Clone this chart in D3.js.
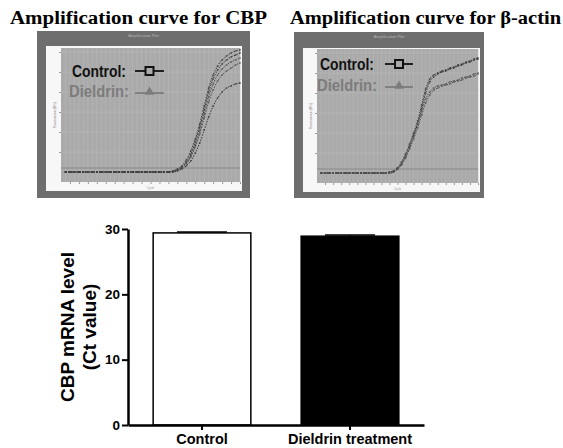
<!DOCTYPE html>
<html>
<head>
<meta charset="utf-8">
<script src="https://cdn.jsdelivr.net/npm/d3@7"></script>
<style>
  body { margin: 0; background: #fff; }
  svg { display: block; }
</style>
</head>
<body>
<div id="container"></div>
<script>
/* CONSTANTS AND GLOBALS */
const width = 563,
  height = 448;

/* DATA */
// amplification plot titles
const panelTitles = ["Amplification curve for CBP", "Amplification curve for \u03b2-actin"];
const legendLabels = ["Control:", "Dieldrin:"];

// cycle numbers 1..40
const cycles = d3.range(1, 41);

// CBP amplification curves (delta Rn per cycle)
const cbpCurves = [
  [0,0,0,0,0,0,0,0,0,0,0,0,0,0,0,0,0,0,0,0,0,0,0,0, 0.01,0.03,0.06,0.12,0.21,0.33,0.48,0.66,0.84,0.97,1.06,1.12,1.16,1.19,1.21,1.22],
  [0,0,0,0,0,0,0,0,0,0,0,0,0,0,0,0,0,0,0,0,0,0,0,0, 0.01,0.02,0.05,0.10,0.18,0.30,0.45,0.62,0.80,0.93,1.02,1.08,1.12,1.15,1.17,1.19],
  [0,0,0,0,0,0,0,0,0,0,0,0,0,0,0,0,0,0,0,0,0,0,0,0, 0.01,0.02,0.05,0.09,0.16,0.27,0.41,0.58,0.75,0.88,0.97,1.03,1.07,1.10,1.12,1.14],
  [0,0,0,0,0,0,0,0,0,0,0,0,0,0,0,0,0,0,0,0,0,0,0,0, 0.00,0.02,0.04,0.08,0.15,0.25,0.38,0.54,0.70,0.82,0.91,0.97,1.01,1.04,1.07,1.09],
  [0,0,0,0,0,0,0,0,0,0,0,0,0,0,0,0,0,0,0,0,0,0,0,0, 0.00,0.01,0.03,0.06,0.11,0.19,0.29,0.42,0.55,0.66,0.74,0.80,0.84,0.86,0.88,0.89]
];

// beta-actin amplification curves
const actinCurves = [
  [0,0,0,0,0,0,0,0,0,0,0,0,0,0,0,0,0, 0.01,0.02,0.05,0.11,0.19,0.29,0.40,0.52,0.68,0.84,0.94,0.98,1.00,1.02,1.03,1.05,1.06,1.08,1.09,1.11,1.12,1.14,1.15],
  [0,0,0,0,0,0,0,0,0,0,0,0,0,0,0,0,0, 0.00,0.01,0.04,0.09,0.16,0.26,0.37,0.49,0.64,0.80,0.91,0.96,0.99,1.01,1.02,1.04,1.05,1.07,1.08,1.10,1.11,1.13,1.14],
  [0,0,0,0,0,0,0,0,0,0,0,0,0,0,0,0,0, 0.01,0.02,0.05,0.10,0.18,0.28,0.38,0.49,0.62,0.74,0.81,0.85,0.87,0.88,0.89,0.91,0.92,0.93,0.95,0.96,0.97,0.99,1.00],
  [0,0,0,0,0,0,0,0,0,0,0,0,0,0,0,0,0, 0.00,0.01,0.04,0.08,0.15,0.24,0.34,0.45,0.58,0.70,0.78,0.83,0.85,0.87,0.88,0.89,0.91,0.92,0.93,0.95,0.96,0.97,0.99]
];
const curveGroups = ["control", "control", "dieldrin", "dieldrin", "control"];
const threshold = 0.04;
const gridRn = [0.2, 0.4, 0.6, 0.8, 1.0, 1.2];

// bar chart
const groups = ["Control", "Dieldrin treatment"];
const ctMeans = [29.4, 28.9];
const ctSem = [0.15, 0.2];
const yTicks = [0, 10, 20, 30];

// APPEND SVG
const svg = d3.select("#container")
  .append("svg")
  .attr("width", width)
  .attr("height", height)

/* AMPLIFICATION PANELS */
const panels = [
  { title: panelTitles[0], tx: 10, tw: 257, frame: [37, 31, 250, 198], inner: [46, 46, 242, 191], plot: [61, 48, 240, 182],
    curves: cbpCurves, leg: { tx: 72, ty: 77, mx: 135, mw: 29, dy: 20 } },
  { title: panelTitles[1], tx: 290, tw: 271, frame: [294, 32, 484, 198], inner: [303, 48, 480, 192], plot: [317, 49, 478, 183],
    curves: actinCurves, leg: { tx: 320, ty: 70, mx: 385, mw: 28, dy: 21 } }
];

panels.forEach(p => {
  const g = svg.append("g")

  // title
  g.append("text")
    .attr("x", p.tx)
    .attr("y", 24)
    .attr("textLength", p.tw)
    .attr("lengthAdjust", "spacingAndGlyphs")
    .attr("font-family", "Liberation Serif, serif")
    .attr("font-weight", "bold")
    .attr("font-size", 18.5)
    .text(p.title)

  const [fx0, fy0, fx1, fy1] = p.frame
  const [ix0, iy0, ix1, iy1] = p.inner
  const [px0, py0, px1, py1] = p.plot

  g.append("rect").attr("x", fx0).attr("y", fy0).attr("width", fx1 - fx0).attr("height", fy1 - fy0)
    .attr("fill", "#6e6e6e")
  g.append("text")
    .attr("x", (fx0 + fx1) / 2).attr("y", fy0 + 6)
    .attr("text-anchor", "middle")
    .attr("font-family", "Liberation Sans, sans-serif")
    .attr("font-size", 4)
    .attr("fill", "#b5b5b5")
    .text("Amplification Plot")
  g.append("rect").attr("x", ix0).attr("y", iy0).attr("width", ix1 - ix0).attr("height", iy1 - iy0)
    .attr("fill", "#f7f7f7")
  g.append("rect").attr("x", px0).attr("y", py0).attr("width", px1 - px0).attr("height", py1 - py0)
    .attr("fill", "#aaaaaa")

  const x = d3.scaleLinear().domain([0, 40]).range([px0, px1])
  const y = d3.scaleLinear().domain([-0.1, (py1 - py0) / 100 - 0.1]).range([py1, py0])

  // grid
  g.selectAll("line.vgrid").data(cycles).join("line")
    .attr("x1", d => x(d)).attr("x2", d => x(d))
    .attr("y1", py0).attr("y2", py1)
    .attr("stroke", "#b9b9b9").attr("stroke-width", 0.6)
  g.selectAll("line.hgrid").data(gridRn).join("line")
    .attr("x1", px0).attr("x2", px1)
    .attr("y1", d => y(d)).attr("y2", d => y(d))
    .attr("stroke", "#b9b9b9").attr("stroke-width", 0.7)

  // axes (tiny, as in the screenshot)
  const xAxis = g.append("g")
    .attr("transform", `translate(0, ${py1})`)
    .call(d3.axisBottom(x).tickValues(d3.range(2, 41, 2)).tickSize(2).tickFormat(""))
  xAxis.select(".domain").remove()
  xAxis.selectAll("line").attr("stroke", "#999")
  g.append("text").attr("x", (px0 + px1) / 2).attr("y", py1 + 7)
    .attr("text-anchor", "middle").attr("font-size", 3).attr("fill", "#999")
    .attr("font-family", "Liberation Sans, sans-serif").text("Cycle")
  const yAxis = g.append("g")
    .attr("transform", `translate(${px0}, 0)`)
    .call(d3.axisLeft(y).tickValues(gridRn).tickSize(2).tickFormat(""))
  yAxis.select(".domain").remove()
  yAxis.selectAll("line").attr("stroke", "#999")
  g.append("text")
    .attr("transform", `translate(${px0 - 5}, ${(py0 + py1) / 2}) rotate(-90)`)
    .attr("text-anchor", "middle").attr("font-size", 3).attr("fill", "#888")
    .attr("font-family", "Liberation Sans, sans-serif").text("Fluorescence (\u0394Rn)")

  // threshold
  g.append("line")
    .attr("x1", px0).attr("x2", px1)
    .attr("y1", y(threshold)).attr("y2", y(threshold))
    .attr("stroke", "#808080").attr("stroke-width", 0.8)

  // curves
  const lineGen = d3.line()
    .x((d, i) => x(cycles[i]))
    .y(d => y(d))
    .curve(d3.curveMonotoneX)
  p.curves.forEach((c, k) => {
    const col = curveGroups[k] === "control" ? "#353535" : "#505050"
    g.append("path")
      .attr("d", lineGen(c))
      .attr("fill", "none")
      .attr("stroke", col)
      .attr("stroke-width", 1)
      .attr("stroke-dasharray", "1.5,1.3")
    g.selectAll(null).data(c).join("rect")
      .attr("x", (d, i) => x(cycles[i]) - 0.8)
      .attr("y", d => y(d) - 0.8)
      .attr("width", 1.6).attr("height", 1.6)
      .attr("fill", col)
      .attr("opacity", 0.7)
  })

  // legend
  const L = p.leg
  const legendColors = ["#111", "#7c7c7c"]
  legendLabels.forEach((lab, i) => {
    g.append("text")
      .attr("x", L.tx - i * 3)
      .attr("y", L.ty + i * L.dy)
      .attr("font-family", "Liberation Sans, sans-serif")
      .attr("font-weight", "bold")
      .attr("font-size", 16.5)
      .attr("textLength", i === 0 ? 54 : 60)
      .attr("lengthAdjust", "spacingAndGlyphs")
      .attr("fill", legendColors[i])
      .text(lab)
    const my = L.ty - 6 + i * (L.dy + 2)
    g.append("line")
      .attr("x1", L.mx).attr("x2", L.mx + L.mw)
      .attr("y1", my).attr("y2", my)
      .attr("stroke", legendColors[i]).attr("stroke-width", 1.8)
    const cx = L.mx + L.mw / 2
    if (i === 0) {
      g.append("rect")
        .attr("x", cx - 4).attr("y", my - 4).attr("width", 8).attr("height", 8)
        .attr("fill", "#aaaaaa").attr("stroke", "#111").attr("stroke-width", 2)
    } else {
      g.append("path")
        .attr("d", d3.symbol(d3.symbolTriangle, 40)())
        .attr("transform", `translate(${cx}, ${my - 1})`)
        .attr("fill", legendColors[i])
    }
  })
})

/* BAR CHART */
const bx0 = 128, bx1 = 424, by0 = 229, by1 = 425

const xBand = d3.scaleBand()
  .domain(groups)
  .range([bx0, bx1])
  .paddingInner(0.34)
  .paddingOuter(0.17)

const yScale = d3.scaleLinear()
  .domain([0, 30])
  .range([by1, by0])

const bars = svg.append("g")

bars.selectAll("rect.bar")
  .data(groups)
  .join("rect")
  .attr("class", "bar")
  .attr("x", d => xBand(d))
  .attr("y", (d, i) => yScale(ctMeans[i]))
  .attr("width", xBand.bandwidth())
  .attr("height", (d, i) => by1 - yScale(ctMeans[i]))
  .attr("fill", (d, i) => i === 0 ? "#fff" : "#000")
  .attr("stroke", "#000")
  .attr("stroke-width", 1.5)

// error bars (upper half, as drawn)
groups.forEach((d, i) => {
  const cx = xBand(d) + xBand.bandwidth() / 2
  bars.append("line")
    .attr("x1", cx).attr("x2", cx)
    .attr("y1", yScale(ctMeans[i])).attr("y2", yScale(ctMeans[i] + ctSem[i]))
    .attr("stroke", "#000").attr("stroke-width", 1.5)
  bars.append("line")
    .attr("x1", cx - 25).attr("x2", cx + 25)
    .attr("y1", yScale(ctMeans[i] + ctSem[i])).attr("y2", yScale(ctMeans[i] + ctSem[i]))
    .attr("stroke", "#000").attr("stroke-width", 1.5)
})

// AXES
const yAxisBar = bars.append("g")
  .attr("transform", `translate(${bx0}, 0)`)
  .call(d3.axisLeft(yScale).tickValues(yTicks).tickSize(6).tickPadding(2).tickSizeOuter(0))
yAxisBar.select(".domain").attr("stroke-width", 2.5)
yAxisBar.selectAll(".tick line").attr("stroke-width", 2)
yAxisBar.selectAll("text")
  .attr("font-family", "Liberation Sans, Arial, sans-serif")
  .attr("font-weight", "bold")
  .attr("font-size", 13.5)
  .attr("fill", "#000")

const xAxisBar = bars.append("g")
  .attr("transform", `translate(0, ${by1})`)
  .call(d3.axisBottom(xBand).tickSize(5).tickPadding(4).tickSizeOuter(0))
xAxisBar.select(".domain").attr("stroke-width", 2.5)
xAxisBar.selectAll(".tick line").attr("stroke-width", 2)
xAxisBar.selectAll("text")
  .attr("font-family", "Liberation Sans, Arial, sans-serif")
  .attr("font-weight", "bold")
  .attr("font-size", 14.5)
  .attr("fill", "#000")

// y label
const yLab = bars.append("text")
  .attr("transform", `translate(67, ${(by0 + by1) / 2}) rotate(-90)`)
  .attr("text-anchor", "middle")
  .attr("font-family", "Liberation Sans, Arial, sans-serif")
  .attr("font-weight", "bold")
  .attr("font-size", 19)
yLab.append("tspan").attr("x", 0).attr("dy", "0.35em").text("CBP mRNA level")
yLab.append("tspan").attr("x", 0).attr("dy", 22).text("(Ct value)")
</script>
</body>
</html>
